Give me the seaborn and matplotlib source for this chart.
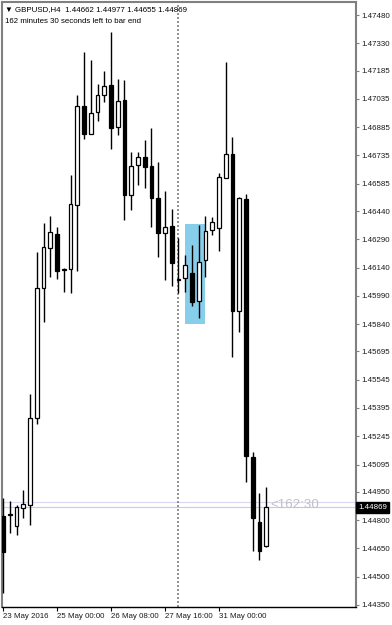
import matplotlib
matplotlib.use("Agg")
import matplotlib.pyplot as plt
import seaborn as sns
import numpy as np
import pandas as pd

# ---- data (GBPUSD H4) ----
opens = [1.44822, 1.44828, 1.44769, 1.44865, 1.44881, 1.45342, 1.46032, 1.46244, 1.46318, 1.46127,
         1.46133, 1.46472, 1.46997, 1.46849, 1.46965, 1.47056, 1.47109, 1.46886, 1.47029, 1.46525,
         1.46684, 1.46727, 1.46679, 1.46509, 1.46323, 1.46361, 1.46074, 1.46085, 1.46111, 1.45963,
         1.46180, 1.46339, 1.46350, 1.46615, 1.46743, 1.45910, 1.46504, 1.45135, 1.44790, 1.44662]
highs = [1.44918, 1.44902, 1.44881, 1.44960, 1.45469, 1.46223, 1.46377, 1.46414, 1.46355, 1.46138,
         1.46631, 1.47056, 1.47284, 1.47241, 1.47114, 1.47183, 1.47390, 1.47141, 1.47135, 1.46753,
         1.46753, 1.46817, 1.46881, 1.46700, 1.46546, 1.46451, 1.46297, 1.46207, 1.46260, 1.46366,
         1.46414, 1.46408, 1.46642, 1.47231, 1.46833, 1.46515, 1.46530, 1.45162, 1.44944, 1.44977]
lows = [1.44414, 1.44732, 1.44721, 1.44812, 1.44774, 1.45310, 1.45851, 1.46090, 1.46080, 1.46011,
        1.46005, 1.46122, 1.46822, 1.46849, 1.46918, 1.47018, 1.46769, 1.46843, 1.46393, 1.46446,
        1.46578, 1.46562, 1.46355, 1.46196, 1.46074, 1.46042, 1.46005, 1.46011, 1.45936, 1.45873,
        1.46090, 1.46313, 1.46228, 1.46615, 1.45666, 1.45798, 1.45000, 1.44637, 1.44589, 1.44655]
closes = [1.44631, 1.44833, 1.44870, 1.44886, 1.45342, 1.46032, 1.46249, 1.46329, 1.46122, 1.46133,
          1.46477, 1.46997, 1.46849, 1.46960, 1.47056, 1.47104, 1.46881, 1.47024, 1.46525, 1.46679,
          1.46727, 1.46674, 1.46509, 1.46323, 1.46355, 1.46164, 1.46080, 1.46154, 1.45958, 1.46170,
          1.46334, 1.46382, 1.46621, 1.46743, 1.45910, 1.46509, 1.45141, 1.44812, 1.44637, 1.44869]

price_ticks = [1.47480, 1.47330, 1.47185, 1.47035, 1.46885, 1.46735, 1.46585, 1.46440, 1.46290,
               1.46140, 1.45990, 1.45840, 1.45695, 1.45545, 1.45395, 1.45245, 1.45095, 1.44950,
               1.44800, 1.44650, 1.44500, 1.44350]
time_tick_bars = [0, 8, 16, 24, 32]
time_tick_labels = ["23 May 2016", "25 May 00:00", "26 May 08:00", "27 May 16:00", "31 May 00:00"]

separator_bar = 26
rect_bars = (27, 30)
rect_prices = (1.45841, 1.46371)
bid = 1.44869
ask = 1.44895
ymin, ymax = 1.44339, 1.47549

df = pd.DataFrame({"bar": np.arange(len(opens)), "open": opens, "high": highs,
                   "low": lows, "close": closes})
df["bull"] = df["close"] >= df["open"]

sns.set_style("white")
plt.rcParams["font.family"] = ["Liberation Sans", "DejaVu Sans"]
FS = 5.7

W, H = 392, 625
fig = plt.figure(figsize=(W / 100, H / 100), dpi=100)
ax = fig.add_axes([2 / W, 18 / H, 354 / W, 605 / H])

ax.set_xlim(-0.15, 52.3)
ax.set_ylim(ymin, ymax)

# rectangle object
ax.add_patch(plt.Rectangle((rect_bars[0], rect_prices[0]), rect_bars[1] - rect_bars[0],
                           rect_prices[1] - rect_prices[0], facecolor="#87CEEB",
                           edgecolor="none", zorder=1))

# period separator
ax.axvline(separator_bar, color="#808080", lw=1.2, ls=(0, (1.2, 1.2)), zorder=2)

# bid / ask lines
ax.axhline(bid, color="#C8C8F0", lw=0.8, zorder=1)
ax.axhline(ask, color="#D8D8F4", lw=0.8, zorder=1)

# wicks
ax.vlines(df["bar"], df["low"], df["high"], color="black", lw=1.0, zorder=3)
# bodies
body_bottom = np.minimum(df["open"], df["close"])
body_h = np.maximum(np.abs(df["close"] - df["open"]), 0.00004)
colors = np.where(df["bull"], "white", "black")
ax.bar(df["bar"], body_h, bottom=body_bottom, width=0.58, color=colors,
       edgecolor="black", linewidth=0.9, zorder=4)

# axes styling
for s in ["left", "right", "top"]:
    ax.spines[s].set_color("#808080")
    ax.spines[s].set_linewidth(1.5)
ax.spines["bottom"].set_color("black")
ax.spines["bottom"].set_linewidth(1.0)

ax.yaxis.tick_right()
ax.set_yticks(price_ticks)
ax.set_yticklabels([f"{p:.5f}" for p in price_ticks])
ax.tick_params(axis="y", which="both", right=True, length=2.5, width=0.8, color="#808080",
               labelsize=FS, labelcolor="#1a1a1a", pad=1.5)
ax.set_xticks(time_tick_bars)
ax.set_xticklabels(time_tick_labels)
ax.tick_params(axis="x", bottom=True, length=3, width=0.8, color="black",
               labelsize=FS, labelcolor="#1a1a1a", pad=1.2)
for lab in ax.get_xticklabels():
    lab.set_horizontalalignment("left")
ax.grid(False)

# header text
ax.text(0.008, 0.994, "\u25BC GBPUSD,H4  1.44662 1.44977 1.44655 1.44869",
        transform=ax.transAxes, ha="left", va="top", fontsize=FS, color="black")
ax.text(0.008, 0.974, "162 minutes 30 seconds left to bar end",
        transform=ax.transAxes, ha="left", va="top", fontsize=FS, color="black")

# countdown label
ax.text(39.6, bid + 0.00012, "<162:30", ha="left", va="center", fontsize=9.6,
        color="#C0C0C0", zorder=5)

# bid price label on axis
ax.text(1.006, bid, "1.44869", transform=ax.get_yaxis_transform(), ha="left",
        va="center", fontsize=FS, color="white", zorder=7, clip_on=False,
        bbox=dict(boxstyle="square,pad=0.25", facecolor="black", edgecolor="black"))

fig.savefig("out.png", dpi=100)
